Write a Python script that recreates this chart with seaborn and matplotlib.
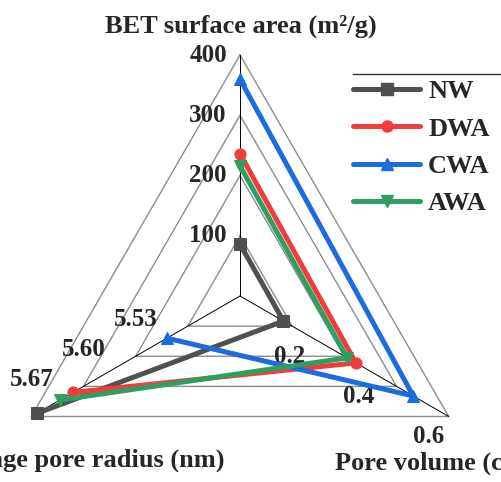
import numpy as np
import pandas as pd
import seaborn as sns
import matplotlib.pyplot as plt
from matplotlib.lines import Line2D

# dados do gráfico radar
samples = ['NW', 'DWA', 'CWA', 'AWA']
bet_area = [86, 236, 360, 216]
pore_volume = [0.125, 0.333, 0.498, 0.308]
pore_radius = [5.663, 5.614, 5.488, 5.632]

bet_ticks = ['100', '200', '300', '400']
volume_ticks = ['0.2', '0.4', '0.6']
radius_ticks = ['5.53', '5.60', '5.67']

colors = ['#505050', '#f03c3c', '#1e6be0', '#2f9f5f']
markers = ['s', 'o', '^', 'v']

# escala de cada eixo (min, max) e ângulo
scales = {'bet': (0, 400), 'vol': (0, 0.6), 'rad': (5.39, 5.67)}
angles = {'bet': np.pi / 2, 'vol': -np.pi / 6, 'rad': 7 * np.pi / 6}
order = ['bet', 'vol', 'rad']


def to_xy(axis, value):
    lo, hi = scales[axis]
    f = (value - lo) / (hi - lo)
    return f * np.cos(angles[axis]), f * np.sin(angles[axis])


rows = []
for i, s in enumerate(samples):
    vals = {'bet': bet_area[i], 'vol': pore_volume[i], 'rad': pore_radius[i]}
    for k, axis in enumerate(order + ['bet']):
        x, y = to_xy(axis, vals[axis])
        rows.append({'sample': s, 'step': k, 'x': x, 'y': y})
df = pd.DataFrame(rows)

sns.set_style('white')
plt.rcParams['font.family'] = ['Liberation Serif', 'DejaVu Serif']
plt.rcParams['font.weight'] = 'bold'

W, H = 501, 482
fig = plt.figure(figsize=(W / 100, H / 100), dpi=100)
ax = fig.add_axes([0, 0, 1, 1])
R = 241.0
ax.set_xlim(-240 / R, (W - 240) / R)
ax.set_ylim(-(H - 296) / R, 296 / R)
ax.axis('off')

# grade triangular
ring_x = [np.cos(angles[a]) for a in order + ['bet']]
ring_y = [np.sin(angles[a]) for a in order + ['bet']]
for f in [0.25, 0.5, 0.75, 1.0]:
    ax.plot(np.array(ring_x) * f, np.array(ring_y) * f, color='#8c8c8c', lw=1.0, zorder=1)
for a in order:
    ax.plot([0, np.cos(angles[a])], [0, np.sin(angles[a])], color='black', lw=0.7, zorder=1)

# rótulos dos eixos
tick_kw = dict(textcoords='offset pixels', fontsize=18, fontweight='bold',
               ha='center', va='center', zorder=2)
for t in bet_ticks:
    ax.annotate(t, to_xy('bet', float(t)), xytext=(-32, 0), **tick_kw)
for t in volume_ticks:
    ax.annotate(t, to_xy('vol', float(t)), xytext=(-20, -20), **tick_kw)
for t in radius_ticks:
    ax.annotate(t, to_xy('rad', float(t)), xytext=(0, 37), **tick_kw)

# séries
for s, c, m in zip(samples, colors, markers):
    sub = df[df['sample'] == s]
    sns.lineplot(data=sub, x='x', y='y', sort=False, ax=ax, color=c, lw=3.6,
                 marker=m, markersize=8, markeredgecolor=c, label=s, zorder=3)

# títulos dos eixos
fig.text(241 / W, 1 - 33 / H, 'BET surface area (m²/g)', ha='center', va='baseline',
         fontsize=19, fontweight='bold')
fig.text(225 / W, 1 - 467 / H, 'Average pore radius (nm)', ha='right', va='baseline',
         fontsize=19, fontweight='bold')
fig.text(335 / W, 1 - 470 / H, 'Pore volume (cm³/g)', ha='left', va='baseline',
         fontsize=19, fontweight='bold')

# legenda
ax.get_legend().remove()
handles = [Line2D([], [], color=c, lw=3.6, marker=m, markersize=8) for c, m in zip(colors, markers)]
fig.legend(handles, samples, loc='upper left', bbox_to_anchor=(353 / W, 1 - 80 / H),
           frameon=False, handlelength=2.55, handletextpad=0.3,
           labelspacing=0.52, borderpad=0, borderaxespad=0,
           prop={'weight': 'bold', 'size': 19})
fig.add_artist(Line2D([353 / W, 1], [1 - 74 / H, 1 - 74 / H], color='#333333', lw=1.0))

fig.savefig('out.png', dpi=100)
